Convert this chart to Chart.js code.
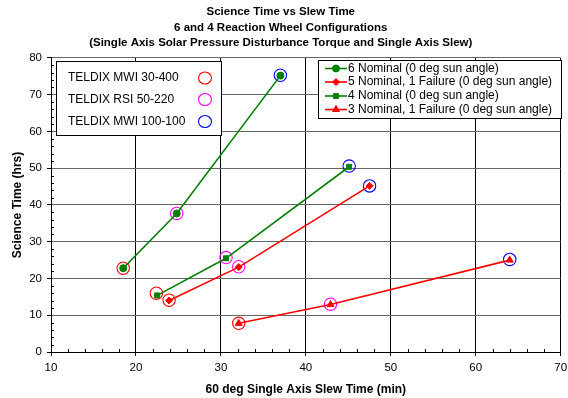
<!DOCTYPE html>
<html><head><meta charset="utf-8">
<script src="https://cdn.jsdelivr.net/npm/chart.js@4/dist/chart.umd.min.js"></script>
<style>html,body{margin:0;padding:0;background:#fff}</style>
</head><body>
<canvas id="c" width="568" height="398"></canvas>
<script>
// ---- data ----
const titleLines = ['Science Time vs Slew Time', '6 and 4 Reaction Wheel Configurations', '(Single Axis Solar Pressure Disturbance Torque and Single Axis Slew)'];
const xTitle = '60 deg Single Axis Slew Time (min)';
const yTitle = 'Science Time (hrs)';
const xTickValues = [10, 20, 30, 40, 50, 60, 70];
const yTickValues = [0, 10, 20, 30, 40, 50, 60, 70, 80];

const seriesNames = ['6 Nominal (0 deg sun angle)', '5 Nominal, 1 Failure (0 deg sun angle)', '4 Nominal (0 deg sun angle)', '3 Nominal, 1 Failure (0 deg sun angle)'];
const sixNominal = [{x:18.5,y:22.8},{x:24.8,y:37.7},{x:37.0,y:75.2}];
const fiveNominalOneFail = [{x:23.9,y:14.0},{x:32.1,y:23.1},{x:47.5,y:45.2}];
const fourNominal = [{x:22.5,y:15.4},{x:30.6,y:25.5},{x:45.1,y:50.4}];
const threeNominalOneFail = [{x:32.1,y:7.8},{x:42.9,y:12.9},{x:64.0,y:25.0}];

const wheelNames = ['TELDIX MWI 30-400', 'TELDIX RSI 50-220', 'TELDIX MWI 100-100'];
const mwi30_400 = [{x:18.5,y:22.8},{x:22.4,y:16.0},{x:23.9,y:14.1},{x:32.1,y:7.8}];
const rsi50_220 = [{x:24.8,y:37.7},{x:30.6,y:25.7},{x:32.1,y:23.2},{x:42.9,y:13.0}];
const mwi100_100 = [{x:37.0,y:75.3},{x:45.1,y:50.6},{x:47.5,y:45.2},{x:64.0,y:25.2}];

// ---- styles ----
const FONT = "'Liberation Sans', Arial, sans-serif";
const GREEN = '#008000', RED = '#ff0000', MAGENTA = '#ff00ff', BLUE = '#0000ff';
const seriesStyles = [
  {color: GREEN, pointStyle: 'circle', radius: 3.5},
  {color: RED, pointStyle: 'rectRot', radius: 3.5},
  {color: GREEN, pointStyle: 'rect', radius: 3.5},
  {color: RED, pointStyle: 'triangle', radius: 4}
];
const seriesData = [sixNominal, fiveNominalOneFail, fourNominal, threeNominalOneFail];
const wheelData = [mwi30_400, rsi50_220, mwi100_100];
const wheelColors = [RED, MAGENTA, BLUE];

const datasets = [];
seriesData.forEach((d, i) => {
  const s = seriesStyles[i];
  datasets.push({
    label: seriesNames[i], data: d, showLine: true,
    borderColor: s.color, backgroundColor: s.color, borderWidth: 1.6,
    pointStyle: s.pointStyle, pointRadius: s.radius, pointBorderWidth: 1,
    pointBackgroundColor: s.color, pointBorderColor: s.color
  });
});
wheelData.forEach((d, i) => {
  datasets.push({
    label: wheelNames[i], data: d, showLine: false,
    borderColor: wheelColors[i], backgroundColor: 'rgba(0,0,0,0)',
    pointStyle: 'circle', pointRadius: 6.2, pointBorderWidth: 1.1,
    pointBackgroundColor: 'rgba(0,0,0,0)', pointBorderColor: wheelColors[i]
  });
});

const extras = {
  id: 'extras',
  afterDraw(chart) {
    const ctx = chart.ctx, ca = chart.chartArea;
    const xs = chart.scales.x, ys = chart.scales.y;
    ctx.save();
    // minor ticks
    ctx.strokeStyle = '#000'; ctx.lineWidth = 1;
    ctx.beginPath();
    for (let v = xs.min; v <= xs.max; v += 2) {
      if (v % 10 === 0) continue;
      const px = Math.round(xs.getPixelForValue(v)) + 0.5;
      ctx.moveTo(px, ca.bottom); ctx.lineTo(px, ca.bottom - 3);
    }
    for (let v = ys.min; v <= ys.max; v += 2) {
      if (v % 10 === 0) continue;
      const py = Math.round(ys.getPixelForValue(v)) + 0.5;
      ctx.moveTo(ca.left, py); ctx.lineTo(ca.left + 3, py);
    }
    ctx.stroke();

    // left legend (wheel types)
    ctx.fillStyle = '#fff'; ctx.strokeStyle = '#000'; ctx.lineWidth = 1;
    ctx.fillRect(56, 61, 165, 74); ctx.strokeRect(56.5, 61.5, 165, 74);
    ctx.font = '12px ' + FONT; ctx.textBaseline = 'middle'; ctx.textAlign = 'left';
    const lRows = [78, 99.5, 121.5];
    wheelNames.forEach((n, i) => {
      ctx.fillStyle = '#000';
      ctx.fillText(n, 68, lRows[i]);
      ctx.strokeStyle = wheelColors[i]; ctx.lineWidth = 1.1;
      ctx.beginPath(); ctx.ellipse(205, lRows[i], 6.5, 6, 0, 0, Math.PI * 2); ctx.stroke();
    });

    // right legend (series)
    ctx.fillStyle = '#fff'; ctx.strokeStyle = '#000'; ctx.lineWidth = 1;
    ctx.fillRect(318, 60, 243, 58); ctx.strokeRect(318.5, 60.5, 243, 58);
    const rRows = [68.5, 82, 96, 109.5];
    seriesNames.forEach((n, i) => {
      const s = seriesStyles[i];
      ctx.strokeStyle = s.color; ctx.lineWidth = 1.6;
      ctx.beginPath(); ctx.moveTo(325, rRows[i]); ctx.lineTo(347, rRows[i]); ctx.stroke();
      ctx.fillStyle = s.color; ctx.strokeStyle = s.color; ctx.lineWidth = 1;
      Chart.helpers.drawPoint(ctx, {pointStyle: s.pointStyle, radius: s.radius, rotation: 0, borderWidth: 1}, 336, rRows[i]);
      ctx.fillStyle = '#000';
      ctx.fillText(n, 348, rRows[i]);
    });
    ctx.restore();
  }
};

new Chart(document.getElementById('c'), {
  type: 'scatter',
  data: {datasets},
  options: {
    responsive: false, animation: false, devicePixelRatio: 1,
    layout: {padding: {left: 0, right: 6.5, top: 0, bottom: 0}},
    plugins: {
      legend: {display: false}, tooltip: {enabled: false},
      title: {display: true, text: titleLines, color: '#000',
        font: {family: FONT, size: 11.5, weight: 'bold', lineHeight: 1.35},
        padding: {top: 4.5, bottom: 6.9}}
    },
    scales: {
      x: {
        type: 'linear', min: 10, max: 70,
        afterBuildTicks: s => { s.ticks = xTickValues.map(v => ({value: v})); },
        afterFit: s => { s.height = 46; s.paddingLeft = 0; s.paddingRight = 0; },
        ticks: {color: '#000', font: {family: FONT, size: 11.5}, padding: 5, maxRotation: 0},
        grid: {color: '#000', lineWidth: 1, tickLength: 4, tickColor: '#000'},
        border: {color: '#000', width: 1},
        title: {display: true, text: xTitle, color: '#000', font: {family: FONT, size: 12, weight: 'bold'}, padding: {top: 0, bottom: 1}}
      },
      y: {
        type: 'linear', min: 0, max: 80,
        afterBuildTicks: s => { s.ticks = yTickValues.map(v => ({value: v})); },
        afterFit: s => { s.width = 51; s.paddingTop = 0; s.paddingBottom = 0; },
        ticks: {color: '#000', font: {family: FONT, size: 11.5}, padding: 5},
        grid: {color: '#666', lineWidth: 1, tickLength: 4, tickColor: '#000'},
        border: {color: '#000', width: 1},
        title: {display: true, text: yTitle, color: '#000', font: {family: FONT, size: 12, weight: 'bold'}, padding: {top: 10, bottom: 0}}
      }
    }
  },
  plugins: [extras]
});
</script>
</body></html>
